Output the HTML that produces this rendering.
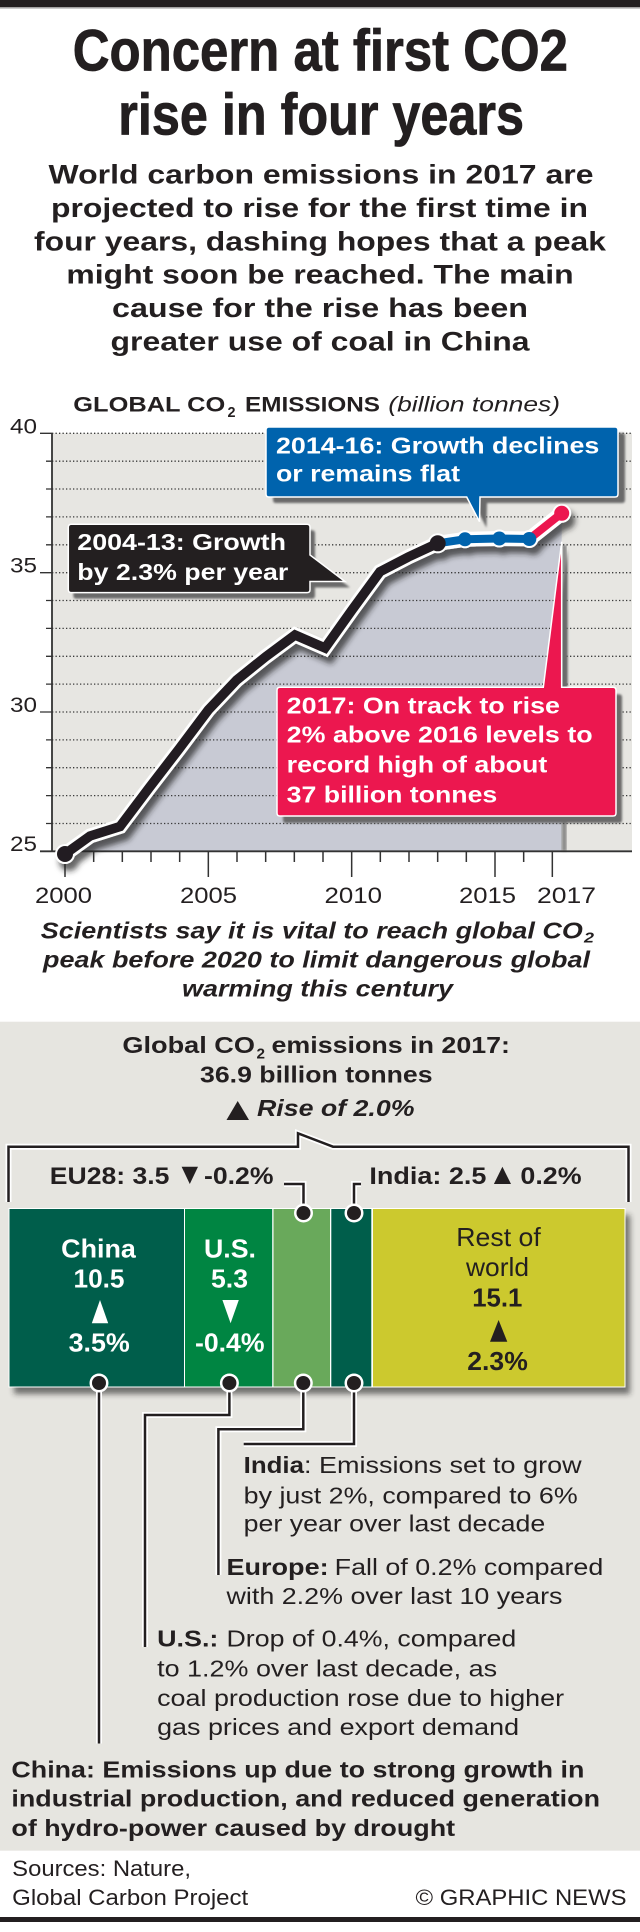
<!DOCTYPE html>
<html>
<head>
<meta charset="utf-8">
<style>
html,body{margin:0;padding:0;background:#fff}
svg{display:block}
text{font-family:"Liberation Sans",Arial,sans-serif;fill:#231f20}
.b{font-weight:bold}
.i{font-style:italic}
.w{fill:#fff}
</style>
</head>
<body>
<svg xmlns="http://www.w3.org/2000/svg" width="640" height="1932" viewBox="0 0 640 1932">
<defs>
  <filter id="ls" x="-5%" y="-5%" width="115%" height="130%">
    <feGaussianBlur in="SourceAlpha" stdDeviation="3"/>
    <feOffset dx="4" dy="7" result="o"/>
    <feFlood flood-color="#222" flood-opacity="0.7"/>
    <feComposite in2="o" operator="in" result="s"/>
    <feMerge><feMergeNode in="s"/><feMergeNode in="SourceGraphic"/></feMerge>
  </filter>
  <filter id="bl1" x="-5%" y="-10%" width="110%" height="120%"><feGaussianBlur stdDeviation="1"/></filter>
  <filter id="bl3" x="-5%" y="-20%" width="110%" height="140%"><feGaussianBlur stdDeviation="3"/></filter>
</defs>

<!-- top bar -->
<rect x="0" y="0" width="640" height="7.3" fill="#231f20"/>
<rect x="0" y="7.3" width="640" height="1.4" fill="#b5b5b5"/>

<!-- Title -->
<text class="b" x="72.7" y="70.5" font-size="58" textLength="495.3" lengthAdjust="spacingAndGlyphs" stroke="#231f20" stroke-width="0.8">Concern at first CO2</text>
<text class="b" x="118.3" y="134.5" font-size="58" textLength="405.7" lengthAdjust="spacingAndGlyphs" stroke="#231f20" stroke-width="0.8">rise in four years</text>

<!-- Subtitle -->
<g font-size="27">
<text class="b" x="48.5" y="183.5" textLength="545" lengthAdjust="spacingAndGlyphs">World carbon emissions in 2017 are</text>
<text class="b" x="51" y="217" textLength="537" lengthAdjust="spacingAndGlyphs">projected to rise for the first time in</text>
<text class="b" x="34" y="250.3" textLength="572" lengthAdjust="spacingAndGlyphs">four years, dashing hopes that a peak</text>
<text class="b" x="66.4" y="283.5" textLength="507.2" lengthAdjust="spacingAndGlyphs">might soon be reached. The main</text>
<text class="b" x="112" y="317" textLength="416" lengthAdjust="spacingAndGlyphs">cause for the rise has been</text>
<text class="b" x="110.5" y="350.3" textLength="419" lengthAdjust="spacingAndGlyphs">greater use of coal in China</text>
</g>

<!-- Chart title -->
<text class="b" x="73.3" y="411.5" font-size="21" textLength="152" lengthAdjust="spacingAndGlyphs">GLOBAL CO</text>
<text class="b" x="227.5" y="417" font-size="15" textLength="8" lengthAdjust="spacingAndGlyphs">2</text>
<text class="b" x="245" y="411.5" font-size="21" textLength="135" lengthAdjust="spacingAndGlyphs">EMISSIONS</text>
<text class="i" x="388.3" y="411.5" font-size="21" textLength="171.7" lengthAdjust="spacingAndGlyphs">(billion tonnes)</text>

<!-- plot background -->
<rect x="52" y="433.3" width="580" height="418" fill="#e7e6e2"/>

<!-- area -->
<polygon points="65,854 90,836 120,826.5 149,788 179,749 208.3,710 236.7,680 265.7,656.7 295,635 325,648 352,610 380,571.7 408.3,557 437.7,543.3 465,539.3 499.3,538.5 529.3,539 561.7,513.3 561.7,851 65,851" fill="#c8cad4"/>
<rect x="561.7" y="545" width="5" height="306" fill="#777" opacity="0.8" filter="url(#bl1)"/>

<!-- gridlines -->
<path d="M52,433.3H632M52,461.2H632M52,489H632M52,516.9H632M52,544.8H632M52,572.7H632M52,600.5H632M52,628.4H632M52,656.3H632M52,684.1H632M52,712H632M52,739.9H632M52,767.7H632M52,795.6H632M52,823.5H632" stroke="#3a3a3a" stroke-width="1.3" stroke-dasharray="1.3 2.2" fill="none"/>
<!-- y ticks -->
<path d="M40,433.3H52M46,461.2H52M46,489H52M46,516.9H52M46,544.8H52M40,572.7H52M46,600.5H52M46,628.4H52M46,656.3H52M46,684.1H52M40,712H52M46,739.9H52M46,767.7H52M46,795.6H52M46,823.5H52" stroke="#333" stroke-width="1.3" fill="none"/>
<!-- axes -->
<line x1="52" y1="433.3" x2="52" y2="851.3" stroke="#333" stroke-width="1.8"/>
<line x1="40" y1="851.3" x2="632" y2="851.3" stroke="#333" stroke-width="1.8"/>
<!-- x ticks -->
<path d="M65,851V877M93.67,851V862M122.33,851V862M151,851V862M179.67,851V862M208.33,851V877M237,851V862M265.67,851V862M294.33,851V862M323,851V862M351.67,851V877M380.33,851V862M409,851V862M437.67,851V862M466.33,851V862M495,851V877M523.67,851V862M552.33,851V877" stroke="#333" stroke-width="1.5" fill="none"/>

<!-- y labels -->
<g font-size="21">
<text x="10" y="433.3" textLength="27" lengthAdjust="spacingAndGlyphs">40</text>
<text x="10" y="572.7" textLength="27" lengthAdjust="spacingAndGlyphs">35</text>
<text x="10" y="712" textLength="27" lengthAdjust="spacingAndGlyphs">30</text>
<text x="10" y="851" textLength="27" lengthAdjust="spacingAndGlyphs">25</text>
</g>
<!-- x labels -->
<g font-size="22">
<text x="35" y="903" textLength="57" lengthAdjust="spacingAndGlyphs">2000</text>
<text x="180" y="903" textLength="57" lengthAdjust="spacingAndGlyphs">2005</text>
<text x="324.5" y="903" textLength="57.5" lengthAdjust="spacingAndGlyphs">2010</text>
<text x="459" y="903" textLength="57" lengthAdjust="spacingAndGlyphs">2015</text>
<text x="537" y="903" textLength="59" lengthAdjust="spacingAndGlyphs">2017</text>
</g>

<!-- data line -->
<g filter="url(#ls)">
  <polyline points="65,854 90,836 120,826.5 149,788 179,749 208.3,710 236.7,680 265.7,656.7 295,635 325,648 352,610 380,571.7 408.3,557 437.7,543.3 465,539.3 499.3,538.5 529.3,539 561.7,513.3" fill="none" stroke="#fff" stroke-width="15" stroke-linejoin="miter" stroke-linecap="round"/>
  <circle cx="65" cy="854" r="10" fill="#fff"/>
  <circle cx="437.7" cy="543.3" r="10" fill="#fff"/>
  <circle cx="465" cy="539.3" r="9" fill="#fff"/>
  <circle cx="499.3" cy="538.5" r="9" fill="#fff"/>
  <circle cx="529.3" cy="539" r="9" fill="#fff"/>
  <circle cx="561.7" cy="513.3" r="9.5" fill="#fff"/>
  <polyline points="65,854 90,836 120,826.5 149,788 179,749 208.3,710 236.7,680 265.7,656.7 295,635 325,648 352,610 380,571.7 408.3,557 437.7,543.3" fill="none" stroke="#231f20" stroke-width="9.5" stroke-linejoin="miter"/>
  <polyline points="437.7,543.3 465,539.3 499.3,538.5 529.3,539" fill="none" stroke="#0063ad" stroke-width="8"/>
  <line x1="529.3" y1="539" x2="561.7" y2="513.3" stroke="#ec174f" stroke-width="8"/>
  <circle cx="65" cy="854" r="8" fill="#231f20"/>
  <circle cx="437.7" cy="543.3" r="8" fill="#231f20"/>
  <circle cx="465" cy="539.3" r="7" fill="#0063ad"/>
  <circle cx="499.3" cy="538.5" r="7" fill="#0063ad"/>
  <circle cx="529.3" cy="539" r="7" fill="#0063ad"/>
  <circle cx="561.7" cy="513.3" r="7.5" fill="#ec174f"/>
</g>

<!-- Black annotation -->
<path d="M71.3,524.3H307Q310,524.3 310,527.3V555L345,581.5H310V589.6Q310,592.6 307,592.6H71.3Q68.3,592.6 68.3,589.6V527.3Q68.3,524.3 71.3,524.3Z" fill="#6b6b6b" transform="translate(5,6)" filter="url(#bl1)"/>
<path d="M71.3,524.3H307Q310,524.3 310,527.3V555L345,581.5H310V589.6Q310,592.6 307,592.6H71.3Q68.3,592.6 68.3,589.6V527.3Q68.3,524.3 71.3,524.3Z" fill="#231f20" stroke="#fff" stroke-width="1.5"/>
<g font-size="23">
<text class="b w" x="77.3" y="550" textLength="208.7" lengthAdjust="spacingAndGlyphs">2004-13: Growth</text>
<text class="b w" x="77.3" y="580" textLength="211" lengthAdjust="spacingAndGlyphs">by 2.3% per year</text>
</g>

<!-- Blue annotation -->
<path d="M269,427H615Q618,427 618,430V494Q618,497 615,497H480L479.5,521.7L466.7,497H269Q266,497 266,494V430Q266,427 269,427Z" fill="#6b6b6b" transform="translate(7,6)" filter="url(#bl1)"/>
<path d="M269,427H615Q618,427 618,430V494Q618,497 615,497H480L479.5,521.7L466.7,497H269Q266,497 266,494V430Q266,427 269,427Z" fill="#0063ad" stroke="#fff" stroke-width="1.5"/>
<g font-size="23">
<text class="b w" x="276" y="453.3" textLength="323.3" lengthAdjust="spacingAndGlyphs">2014-16: Growth declines</text>
<text class="b w" x="276" y="481.7" textLength="184" lengthAdjust="spacingAndGlyphs">or remains flat</text>
</g>

<!-- Red annotation -->
<path d="M280,687.3H543.3L561.7,541.7V687.3H613Q616,687.3 616,690.3V813Q616,816 613,816H280Q277,816 277,813V690.3Q277,687.3 280,687.3Z" fill="#6b6b6b" transform="translate(6,7)" filter="url(#bl1)"/>
<path d="M280,687.3H543.3L561.7,541.7V687.3H613Q616,687.3 616,690.3V813Q616,816 613,816H280Q277,816 277,813V690.3Q277,687.3 280,687.3Z" fill="#ec174f" stroke="#fff" stroke-width="1.5"/>
<g font-size="23">
<text class="b w" x="286.7" y="713.3" textLength="273.3" lengthAdjust="spacingAndGlyphs">2017: On track to rise</text>
<text class="b w" x="286.7" y="742.7" textLength="306" lengthAdjust="spacingAndGlyphs">2% above 2016 levels to</text>
<text class="b w" x="286.7" y="772.7" textLength="260.6" lengthAdjust="spacingAndGlyphs">record high of about</text>
<text class="b w" x="286.7" y="802.7" textLength="210.6" lengthAdjust="spacingAndGlyphs">37 billion tonnes</text>
</g>

<!-- italic statement -->
<g font-size="23">
<text class="b i" x="40.8" y="938.3" textLength="542" lengthAdjust="spacingAndGlyphs">Scientists say it is vital to reach global CO</text>
<text class="b i" x="584" y="942.5" font-size="15" textLength="10" lengthAdjust="spacingAndGlyphs">2</text>
<text class="b i" x="43" y="967.3" textLength="547" lengthAdjust="spacingAndGlyphs">peak before 2020 to limit dangerous global</text>
<text class="b i" x="182" y="996.7" textLength="271" lengthAdjust="spacingAndGlyphs">warming this century</text>
</g>

<!-- gray section -->
<rect x="0" y="1021.7" width="640" height="829" fill="#e6e5e0"/>

<g font-size="23">
<text class="b" x="122.4" y="1053" textLength="132.6" lengthAdjust="spacingAndGlyphs">Global CO</text>
<text class="b" x="256.5" y="1058.5" font-size="15" textLength="8.5" lengthAdjust="spacingAndGlyphs">2</text>
<text class="b" x="271.5" y="1053" textLength="238.5" lengthAdjust="spacingAndGlyphs">emissions in 2017:</text>
<text class="b" x="200" y="1082.5" textLength="232.6" lengthAdjust="spacingAndGlyphs">36.9 billion tonnes</text>
<text class="b i" x="257" y="1116" textLength="157.5" lengthAdjust="spacingAndGlyphs">Rise of 2.0%</text>
</g>
<polygon points="226.5,1120 249,1120 237.7,1101" fill="#231f20"/>

<!-- bracket -->
<g fill="none" stroke-linejoin="miter">
<path d="M8.5,1202V1146.7H298V1133.3L333,1146.7H628.5V1202" stroke="#fff" stroke-width="6"/>
<path d="M8.5,1202V1146.7H298V1133.3L333,1146.7H628.5V1202" stroke="#231f20" stroke-width="2.5"/>
</g>

<!-- EU / India labels -->
<g font-size="24">
<text class="b" x="49.8" y="1184" textLength="119.6" lengthAdjust="spacingAndGlyphs">EU28: 3.5</text>
<text class="b" x="204" y="1184" textLength="69.5" lengthAdjust="spacingAndGlyphs">-0.2%</text>
<text class="b" x="369.4" y="1184" textLength="117" lengthAdjust="spacingAndGlyphs">India: 2.5</text>
<text class="b" x="520.4" y="1184" textLength="61.2" lengthAdjust="spacingAndGlyphs">0.2%</text>
</g>
<polygon points="181.6,1166.7 198,1166.7 189.8,1184" fill="#231f20"/>
<polygon points="493.9,1184 511,1184 502.4,1166.7" fill="#231f20"/>

<!-- bars -->
<rect x="14" y="1215" width="616" height="179" fill="#222" opacity="0.6" filter="url(#bl3)"/>
<rect x="8.5" y="1208" width="617" height="179.5" fill="#fff"/>
<rect x="9.5" y="1209" width="174.5" height="177.5" fill="#005e4b"/>
<rect x="185" y="1209" width="87.2" height="177.5" fill="#008542"/>
<rect x="273.5" y="1209" width="56.5" height="177.5" fill="#69a95b"/>
<rect x="331.3" y="1209" width="40" height="177.5" fill="#005e4b"/>
<rect x="373" y="1209" width="251.5" height="177.5" fill="#ccc92e"/>

<!-- leader lines -->
<g fill="none">
<path d="M284,1184H303.5V1213M361,1184H354V1213" stroke="#fff" stroke-width="6"/>
<path d="M284,1184H303.5V1213M361,1184H354V1213" stroke="#231f20" stroke-width="2.5"/>
<path d="M99,1383V1743.5M229.4,1383V1415H145V1647M303.3,1383V1429.3H218.4V1575M354,1383V1444H243.7" stroke="#fff" stroke-width="6"/>
<path d="M99,1383V1743.5M229.4,1383V1415H145V1647M303.3,1383V1429.3H218.4V1575M354,1383V1444H243.7" stroke="#231f20" stroke-width="2.5"/>
</g>
<g>
<circle cx="303.5" cy="1213" r="9.5" fill="#fff"/><circle cx="303.5" cy="1213" r="7" fill="#231f20"/>
<circle cx="354" cy="1213" r="9.5" fill="#fff"/><circle cx="354" cy="1213" r="7" fill="#231f20"/>
<circle cx="99" cy="1383" r="9.5" fill="#fff"/><circle cx="99" cy="1383" r="7" fill="#231f20"/>
<circle cx="229.4" cy="1383" r="9.5" fill="#fff"/><circle cx="229.4" cy="1383" r="7" fill="#231f20"/>
<circle cx="303.3" cy="1383" r="9.5" fill="#fff"/><circle cx="303.3" cy="1383" r="7" fill="#231f20"/>
<circle cx="354" cy="1383" r="9.5" fill="#fff"/><circle cx="354" cy="1383" r="7" fill="#231f20"/>
</g>

<!-- bar labels -->
<g font-size="26">
<text class="b w" x="61.2" y="1257.3" textLength="74.7" lengthAdjust="spacingAndGlyphs">China</text>
<text class="b w" x="73.5" y="1287.7" textLength="51" lengthAdjust="spacingAndGlyphs">10.5</text>
<text class="b w" x="68.6" y="1351.7" textLength="61.2" lengthAdjust="spacingAndGlyphs">3.5%</text>
<text class="b w" x="204" y="1257.3" textLength="52" lengthAdjust="spacingAndGlyphs">U.S.</text>
<text class="b w" x="211" y="1287.7" textLength="37" lengthAdjust="spacingAndGlyphs">5.3</text>
<text class="b w" x="195" y="1351.7" textLength="69.5" lengthAdjust="spacingAndGlyphs">-0.4%</text>
<text x="456.3" y="1246" textLength="84.5" lengthAdjust="spacingAndGlyphs">Rest of</text>
<text x="466" y="1276" textLength="63" lengthAdjust="spacingAndGlyphs">world</text>
<text class="b" x="472.2" y="1306.7" textLength="50.2" lengthAdjust="spacingAndGlyphs">15.1</text>
<text class="b" x="467.3" y="1370" textLength="60.5" lengthAdjust="spacingAndGlyphs">2.3%</text>
</g>
<polygon points="91.8,1323.3 108.2,1323.3 100,1300" fill="#fff"/>
<polygon points="222.4,1300 238.8,1300 230.6,1323.3" fill="#fff"/>
<polygon points="490,1341.7 507.3,1341.7 498.6,1320" fill="#231f20"/>

<!-- descriptions -->
<g font-size="23">
<text class="b" x="243.7" y="1473" textLength="60.3" lengthAdjust="spacingAndGlyphs">India</text>
<text x="304" y="1473" textLength="277.6" lengthAdjust="spacingAndGlyphs">: Emissions set to grow</text>
<text x="243.7" y="1503.3" textLength="334" lengthAdjust="spacingAndGlyphs">by just 2%, compared to 6%</text>
<text x="243.7" y="1531.7" textLength="301.6" lengthAdjust="spacingAndGlyphs">per year over last decade</text>

<text class="b" x="226.5" y="1575" textLength="102.1" lengthAdjust="spacingAndGlyphs">Europe:</text>
<text x="334.7" y="1575" textLength="268.6" lengthAdjust="spacingAndGlyphs">Fall of 0.2% compared</text>
<text x="226.5" y="1604" textLength="336" lengthAdjust="spacingAndGlyphs">with 2.2% over last 10 years</text>

<text class="b" x="157.1" y="1646.7" textLength="61.3" lengthAdjust="spacingAndGlyphs">U.S.:</text>
<text x="226.5" y="1646.7" textLength="289.8" lengthAdjust="spacingAndGlyphs">Drop of 0.4%, compared</text>
<text x="157.1" y="1676.3" textLength="340" lengthAdjust="spacingAndGlyphs">to 1.2% over last decade, as</text>
<text x="157.1" y="1705.8" textLength="407" lengthAdjust="spacingAndGlyphs">coal production rose due to higher</text>
<text x="157.1" y="1735" textLength="362" lengthAdjust="spacingAndGlyphs">gas prices and export demand</text>

<text class="b" x="11.4" y="1777.3" textLength="573" lengthAdjust="spacingAndGlyphs">China: Emissions up due to strong growth in</text>
<text class="b" x="11.4" y="1806.7" textLength="588.6" lengthAdjust="spacingAndGlyphs">industrial production, and reduced generation</text>
<text class="b" x="11.4" y="1836" textLength="443.7" lengthAdjust="spacingAndGlyphs">of hydro-power caused by drought</text>
</g>

<!-- footer -->
<g font-size="22">
<text x="12.2" y="1876" textLength="178.8" lengthAdjust="spacingAndGlyphs">Sources: Nature,</text>
<text x="12.2" y="1905" textLength="236" lengthAdjust="spacingAndGlyphs">Global Carbon Project</text>
<text x="415.5" y="1905" textLength="211" lengthAdjust="spacingAndGlyphs">© GRAPHIC NEWS</text>
</g>
<rect x="0" y="1917" width="640" height="5" fill="#231f20"/>
</svg>
</body>
</html>
